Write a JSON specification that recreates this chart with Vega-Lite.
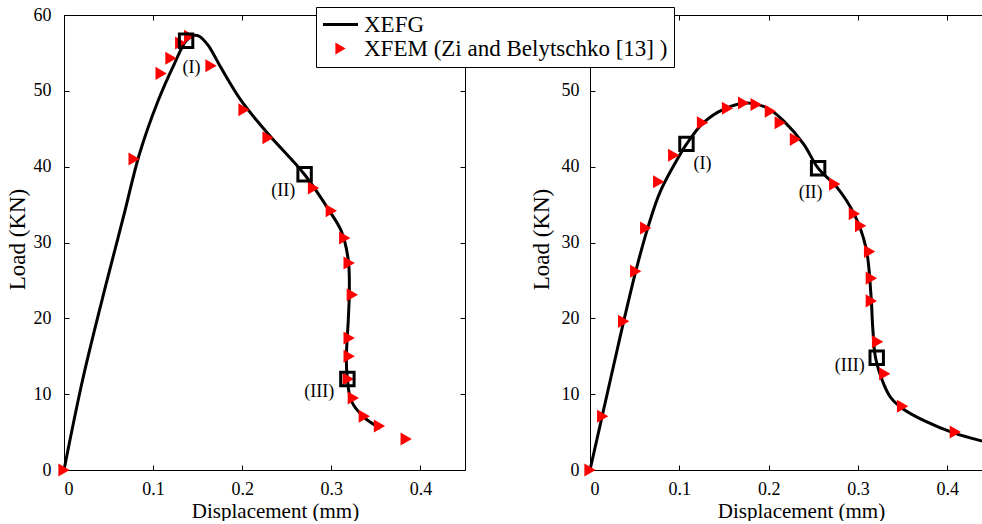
{
  "$schema": "https://vega.github.io/schema/vega-lite/v6.json",
  "padding": {"left": 6, "top": 6, "right": 0, "bottom": 0},
  "bounds": "flush",
  "spacing": 125,
  "config": {
    "view": {"stroke": null},
    "font": "Liberation Serif",
    "axis": {
      "labelFont": "Liberation Serif", "titleFont": "Liberation Serif",
      "labelFontSize": 18, "titleFontSize": 21, "titleFontWeight": "normal",
      "labelColor": "black", "titleColor": "black", "domainColor": "black", "tickColor": "black",
      "grid": false, "tickSize": -5, "domainWidth": 1, "tickWidth": 1
    },
    "text": {"font": "Liberation Serif"}
  },
  "datasets": {
    "lc": [
      {"i": 0, "disp": 0, "load": 0, "series": "XEFG"},
      {"i": 1, "disp": 0.0213, "load": 12.1, "series": "XEFG"},
      {"i": 2, "disp": 0.0472, "load": 24.5, "series": "XEFG"},
      {"i": 3, "disp": 0.0663, "load": 33.2, "series": "XEFG"},
      {"i": 4, "disp": 0.0850, "load": 41.8, "series": "XEFG"},
      {"i": 5, "disp": 0.1056, "load": 48.7, "series": "XEFG"},
      {"i": 6, "disp": 0.1236, "load": 53.5, "series": "XEFG"},
      {"i": 7, "disp": 0.1371, "load": 56.6, "series": "XEFG"},
      {"i": 8, "disp": 0.1461, "load": 57.3, "series": "XEFG"},
      {"i": 9, "disp": 0.1517, "load": 57.2, "series": "XEFG"},
      {"i": 10, "disp": 0.1618, "load": 56.0, "series": "XEFG"},
      {"i": 11, "disp": 0.1764, "load": 53.0, "series": "XEFG"},
      {"i": 12, "disp": 0.1989, "load": 48.7, "series": "XEFG"},
      {"i": 13, "disp": 0.2292, "load": 44.3, "series": "XEFG"},
      {"i": 14, "disp": 0.2697, "load": 39.0, "series": "XEFG"},
      {"i": 15, "disp": 0.2966, "load": 34.4, "series": "XEFG"},
      {"i": 16, "disp": 0.3112, "load": 31.5, "series": "XEFG"},
      {"i": 17, "disp": 0.3191, "load": 27.6, "series": "XEFG"},
      {"i": 18, "disp": 0.3202, "load": 23.6, "series": "XEFG"},
      {"i": 19, "disp": 0.3191, "load": 20.0, "series": "XEFG"},
      {"i": 20, "disp": 0.3169, "load": 14.8, "series": "XEFG"},
      {"i": 21, "disp": 0.3180, "load": 12.0, "series": "XEFG"},
      {"i": 22, "disp": 0.3225, "load": 9.1, "series": "XEFG"},
      {"i": 23, "disp": 0.3371, "load": 6.9, "series": "XEFG"},
      {"i": 24, "disp": 0.3551, "load": 5.5, "series": "XEFG"}
    ],
    "lp": [
      {"disp": 0, "load": 0, "series": "XFEM (Zi and Belytschko [13] )"},
      {"disp": 0.0787, "load": 41.0, "series": "XFEM (Zi and Belytschko [13] )"},
      {"disp": 0.109, "load": 52.3, "series": "XFEM (Zi and Belytschko [13] )"},
      {"disp": 0.120, "load": 54.3, "series": "XFEM (Zi and Belytschko [13] )"},
      {"disp": 0.131, "load": 56.3, "series": "XFEM (Zi and Belytschko [13] )"},
      {"disp": 0.141, "load": 57.2, "series": "XFEM (Zi and Belytschko [13] )"},
      {"disp": 0.165, "load": 53.3, "series": "XFEM (Zi and Belytschko [13] )"},
      {"disp": 0.202, "load": 47.5, "series": "XFEM (Zi and Belytschko [13] )"},
      {"disp": 0.229, "load": 43.8, "series": "XFEM (Zi and Belytschko [13] )"},
      {"disp": 0.280, "load": 37.2, "series": "XFEM (Zi and Belytschko [13] )"},
      {"disp": 0.300, "load": 34.2, "series": "XFEM (Zi and Belytschko [13] )"},
      {"disp": 0.315, "load": 30.6, "series": "XFEM (Zi and Belytschko [13] )"},
      {"disp": 0.320, "load": 27.3, "series": "XFEM (Zi and Belytschko [13] )"},
      {"disp": 0.3236, "load": 23.1, "series": "XFEM (Zi and Belytschko [13] )"},
      {"disp": 0.320, "load": 17.4, "series": "XFEM (Zi and Belytschko [13] )"},
      {"disp": 0.320, "load": 15.0, "series": "XFEM (Zi and Belytschko [13] )"},
      {"disp": 0.319, "load": 12.0, "series": "XFEM (Zi and Belytschko [13] )"},
      {"disp": 0.3247, "load": 9.5, "series": "XFEM (Zi and Belytschko [13] )"},
      {"disp": 0.337, "load": 7.1, "series": "XFEM (Zi and Belytschko [13] )"},
      {"disp": 0.354, "load": 5.8, "series": "XFEM (Zi and Belytschko [13] )"},
      {"disp": 0.384, "load": 4.1, "series": "XFEM (Zi and Belytschko [13] )"}
    ],
    "ls": [
      {"disp": 0.137, "load": 56.6, "label": "(I)", "ldisp": 0.143, "lload": 53.0},
      {"disp": 0.270, "load": 39.0, "label": "(II)", "ldisp": 0.246, "lload": 36.8},
      {"disp": 0.318, "load": 12.0, "label": "(III)", "ldisp": 0.2865, "lload": 10.3}
    ],
    "rc": [
      {"i": 0, "disp": 0, "load": 0},
      {"i": 1, "disp": 0.0232, "load": 12.1},
      {"i": 2, "disp": 0.0377, "load": 19.6},
      {"i": 3, "disp": 0.0512, "load": 26.2},
      {"i": 4, "disp": 0.0646, "load": 31.9},
      {"i": 5, "disp": 0.079, "load": 36.8},
      {"i": 6, "disp": 0.1013, "load": 41.7},
      {"i": 7, "disp": 0.1082, "load": 43.0},
      {"i": 8, "disp": 0.127, "load": 45.8},
      {"i": 9, "disp": 0.150, "load": 47.6},
      {"i": 10, "disp": 0.1765, "load": 48.4},
      {"i": 11, "disp": 0.199, "load": 47.7},
      {"i": 12, "disp": 0.217, "load": 46.0},
      {"i": 13, "disp": 0.239, "load": 43.0},
      {"i": 14, "disp": 0.2554, "load": 39.8},
      {"i": 15, "disp": 0.277, "load": 37.2},
      {"i": 16, "disp": 0.2955, "load": 33.8},
      {"i": 17, "disp": 0.309, "load": 29.3},
      {"i": 18, "disp": 0.3145, "load": 23.2},
      {"i": 19, "disp": 0.3166, "load": 18.7},
      {"i": 20, "disp": 0.3197, "load": 14.8},
      {"i": 21, "disp": 0.329, "load": 11.3},
      {"i": 22, "disp": 0.337, "load": 9.5},
      {"i": 23, "disp": 0.351, "load": 8.0},
      {"i": 24, "disp": 0.374, "load": 6.5},
      {"i": 25, "disp": 0.407, "load": 4.9},
      {"i": 26, "disp": 0.44, "load": 3.8}
    ],
    "rp": [
      {"disp": 0, "load": 0},
      {"disp": 0.0142, "load": 7.1},
      {"disp": 0.0377, "load": 19.6},
      {"disp": 0.0512, "load": 26.2},
      {"disp": 0.0624, "load": 31.9},
      {"disp": 0.0769, "load": 38.0},
      {"disp": 0.0937, "load": 41.5},
      {"disp": 0.126, "load": 45.8},
      {"disp": 0.154, "load": 47.7},
      {"disp": 0.172, "load": 48.4},
      {"disp": 0.186, "load": 48.2},
      {"disp": 0.202, "load": 47.3},
      {"disp": 0.213, "load": 45.8},
      {"disp": 0.230, "load": 43.6},
      {"disp": 0.274, "load": 37.7},
      {"disp": 0.296, "load": 33.8},
      {"disp": 0.303, "load": 32.2},
      {"disp": 0.313, "load": 28.8},
      {"disp": 0.315, "load": 25.3},
      {"disp": 0.315, "load": 22.3},
      {"disp": 0.322, "load": 16.9},
      {"disp": 0.330, "load": 12.7},
      {"disp": 0.350, "load": 8.4},
      {"disp": 0.409, "load": 5.0}
    ],
    "rs": [
      {"disp": 0.108, "load": 43.0, "label": "(I)", "ldisp": 0.126, "lload": 40.4},
      {"disp": 0.2554, "load": 39.8, "label": "(II)", "ldisp": 0.247, "lload": 36.5},
      {"disp": 0.321, "load": 14.8, "label": "(III)", "ldisp": 0.2908, "lload": 13.7}
    ]
  },
  "hconcat": [
    {
      "width": 401,
      "height": 455,
      "resolve": {"axis": {"x": "independent", "y": "independent"}},
      "layer": [
        {
          "data": {"name": "lc"},
          "mark": {"type": "line", "strokeWidth": 3, "interpolate": "catmull-rom"},
          "encoding": {
            "x": {"field": "disp", "type": "quantitative", "scale": {"domain": [0, 0.45], "nice": false},
              "axis": {"orient": "bottom", "values": [0, 0.1, 0.2, 0.3, 0.4], "format": "~g", "title": "Displacement (mm)", "labelFont": "Liberation Serif", "titleFont": "Liberation Serif", "labelPadding": 15, "titlePadding": 2, "titleX": 211}},
            "y": {"field": "load", "type": "quantitative", "scale": {"domain": [0, 60], "nice": false},
              "axis": {"orient": "left", "values": [0, 10, 20, 30, 40, 50, 60], "title": "Load (KN)", "labelFont": "Liberation Serif", "titleFont": "Liberation Serif", "titleFontSize": 23, "labelPadding": 18, "titlePadding": 4, "titleY": 224}},
            "order": {"field": "i", "type": "quantitative"},
            "color": {"field": "series", "type": "nominal",
              "scale": {"domain": ["XEFG", "XFEM (Zi and Belytschko [13] )"], "range": ["black", "red"]},
              "legend": {
                "orient": "none", "legendX": 252, "legendY": -8, "title": null, "direction": "vertical",
                "fillColor": "white", "strokeColor": "black", "padding": 6,
                "labelFont": "Liberation Serif", "labelFontSize": 23, "labelColor": "black", "labelLimit": 500,
                "symbolSize": 400, "symbolOffset": 7, "labelOffset": 12, "rowPadding": 0,
                "encode": {"symbols": {"update": {
                  "shape": {"signal": "datum.value === 'XEFG' ? 'stroke' : 'triangle-right'"},
                  "size": {"signal": "datum.value === 'XEFG' ? 1225 : 140"},
                  "stroke": {"signal": "datum.value === 'XEFG' ? 'black' : 'red'"},
                  "fill": {"signal": "datum.value === 'XEFG' ? 'black' : 'red'"},
                  "strokeWidth": {"signal": "datum.value === 'XEFG' ? 3 : 0"},
                  "opacity": {"value": 1}
                }}}
              }}
          }
        },
        {
          "data": {"name": "lp"},
          "mark": {"type": "point", "shape": "triangle-right", "filled": true, "size": 170, "opacity": 1},
          "encoding": {
            "x": {"field": "disp", "type": "quantitative",
              "axis": {"orient": "top", "values": [0, 0.1, 0.2, 0.3, 0.4], "labels": false, "title": null}},
            "y": {"field": "load", "type": "quantitative",
              "axis": {"orient": "right", "values": [0, 10, 20, 30, 40, 50, 60], "labels": false, "title": null}},
            "color": {"field": "series", "type": "nominal"}
          }
        },
        {
          "data": {"name": "ls"},
          "mark": {"type": "point", "shape": "square", "filled": false, "size": 180, "strokeWidth": 3, "color": "black", "opacity": 1},
          "encoding": {
            "x": {"field": "disp", "type": "quantitative", "axis": null},
            "y": {"field": "load", "type": "quantitative", "axis": null}
          }
        },
        {
          "data": {"name": "ls"},
          "mark": {"type": "text", "font": "Liberation Serif", "fontSize": 18, "align": "center", "baseline": "middle", "color": "black"},
          "encoding": {
            "x": {"field": "ldisp", "type": "quantitative", "axis": null},
            "y": {"field": "lload", "type": "quantitative", "axis": null},
            "text": {"field": "label"}
          }
        }
      ]
    },
    {
      "width": 393,
      "height": 455,
      "resolve": {"axis": {"x": "independent", "y": "independent"}},
      "layer": [
        {
          "data": {"name": "rc"},
          "mark": {"type": "line", "strokeWidth": 3, "color": "black", "interpolate": "catmull-rom"},
          "encoding": {
            "x": {"field": "disp", "type": "quantitative", "scale": {"domain": [0, 0.44], "nice": false},
              "axis": {"orient": "bottom", "values": [0, 0.1, 0.2, 0.3, 0.4], "format": "~g", "title": "Displacement (mm)", "labelFont": "Liberation Serif", "titleFont": "Liberation Serif", "labelPadding": 15, "titlePadding": 2, "titleX": 211}},
            "y": {"field": "load", "type": "quantitative", "scale": {"domain": [0, 60], "nice": false},
              "axis": {"orient": "left", "values": [0, 10, 20, 30, 40, 50, 60], "title": "Load (KN)", "labelFont": "Liberation Serif", "titleFont": "Liberation Serif", "titleFontSize": 23, "labelPadding": 16, "titlePadding": 8, "titleY": 224}},
            "order": {"field": "i", "type": "quantitative"}
          }
        },
        {
          "data": {"name": "rp"},
          "mark": {"type": "point", "shape": "triangle-right", "filled": true, "size": 170, "color": "red", "opacity": 1},
          "encoding": {
            "x": {"field": "disp", "type": "quantitative",
              "axis": {"orient": "top", "values": [0, 0.1, 0.2, 0.3, 0.4], "labels": false, "title": null}},
            "y": {"field": "load", "type": "quantitative", "axis": null}
          }
        },
        {
          "data": {"name": "rs"},
          "mark": {"type": "point", "shape": "square", "filled": false, "size": 180, "strokeWidth": 3, "color": "black", "opacity": 1},
          "encoding": {
            "x": {"field": "disp", "type": "quantitative", "axis": null},
            "y": {"field": "load", "type": "quantitative", "axis": null}
          }
        },
        {
          "data": {"name": "rs"},
          "mark": {"type": "text", "font": "Liberation Serif", "fontSize": 18, "align": "center", "baseline": "middle", "color": "black"},
          "encoding": {
            "x": {"field": "ldisp", "type": "quantitative", "axis": null},
            "y": {"field": "lload", "type": "quantitative", "axis": null},
            "text": {"field": "label"}
          }
        }
      ]
    }
  ]
}
